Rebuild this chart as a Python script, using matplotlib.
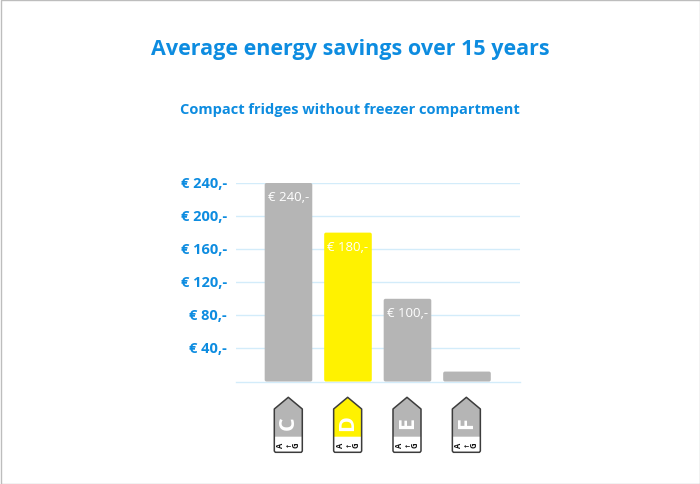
import matplotlib
matplotlib.use("Agg")
import matplotlib.pyplot as plt
from matplotlib.patches import FancyBboxPatch, Polygon, Rectangle
from matplotlib.transforms import ScaledTranslation

plt.rcParams['font.family'] = ['Open Sans', 'DejaVu Sans']

# 数据
classes = ["C", "D", "E", "F"]
savings = [240, 180, 100, 12]
bar_labels = ["€ 240,-", "€ 180,-", "€ 100,-", ""]
bar_colors = ["#b5b5b5", "#fff200", "#b5b5b5", "#b5b5b5"]
ticks = [40, 80, 120, 160, 200, 240]
tick_labels = ["€ 40,-", "€ 80,-", "€ 120,-", "€ 160,-", "€ 200,-", "€ 240,-"]
blue = "#0d8ce0"

W, H = 700, 485
fig = plt.figure(figsize=(7, 4.85), dpi=100)

# 整张图用像素坐标，画标题和标签
bg = fig.add_axes([0, 0, 1, 1])
bg.set_xlim(0, W)
bg.set_ylim(H, 0)
bg.axis("off")
bg.add_patch(Rectangle((0.5, 0.5), W - 1, H - 1, fc="white", ec="#bdbdbd", lw=1))
bg.text(350, 50, "Average energy savings over 15 years", color=blue, fontsize=15.5,
        fontweight="bold", ha="center", va="center")
bg.text(350, 110, "Compact fridges without freezer compartment", color=blue, fontsize=10.5,
        fontweight="bold", ha="center", va="center")

# 柱状图
ax = fig.add_axes([236 / W, 1 - 382.5 / H, 284 / W, 198.5 / H])
ax.patch.set_alpha(0)
ax.set_xlim(-0.882, 3.891)
ax.set_ylim(0, 240)
ax.set_yticks(ticks)
ax.set_yticklabels(tick_labels, color=blue, fontsize=10.5, fontweight="bold")
ax.set_xticks([])
ax.tick_params(axis="y", length=0, pad=6.7)
# 刻度文字往上挪一点
shift = ScaledTranslation(0, 1.5 / 100, fig.dpi_scale_trans)
for lab in ax.get_yticklabels():
    lab.set_transform(lab.get_transform() + shift)
ax.grid(axis="y", color="#d3ecfa", lw=1)
ax.set_axisbelow(True)
for s in ["top", "left", "right"]:
    ax.spines[s].set_visible(False)
ax.spines["bottom"].set_color("#d3ecfa")
ax.spines["bottom"].set_linewidth(1)

# 圆角柱子
bar_w = 0.8
for i, v in enumerate(savings):
    ax.add_patch(FancyBboxPatch((i - bar_w / 2, 0), bar_w, v, boxstyle="round,pad=0,rounding_size=0.03",
                                mutation_aspect=72, fc=bar_colors[i], ec="none", zorder=3))
    if bar_labels[i]:
        ax.annotate(bar_labels[i], (i, v), xytext=(0, -14), textcoords="offset pixels",
                    color="white", fontsize=9.5, ha="center", va="center", zorder=4)

# 能效标签
for i, c in enumerate(classes):
    cx = 288.3 + i * 59.35
    col = bar_colors[i]
    outline = [(cx - 14, 410), (cx, 398.3), (cx + 14, 410), (cx + 14, 452), (cx + 13, 453.3),
               (cx - 13, 453.3), (cx - 14, 452)]
    bg.add_patch(Polygon(outline, closed=True, fc="white", ec="none", zorder=2))
    top = [(cx - 14, 410), (cx, 398.3), (cx + 14, 410), (cx + 14, 437.7), (cx - 14, 437.7)]
    bg.add_patch(Polygon(top, closed=True, fc=col, ec="none", zorder=3))
    bg.add_patch(Polygon(outline, closed=True, fc="none", ec="#3c3c3c", lw=1.1, zorder=4, joinstyle="round"))
    bg.text(cx + 0.3, 423, c, color="white", fontsize=15.5, fontweight="bold", rotation=90,
            ha="center", va="center", zorder=5)
    bg.text(cx - 7.5, 445.5, "A", color="#111111", fontsize=5.5, fontweight="bold", rotation=90,
            ha="center", va="center", zorder=5)
    bg.text(cx + 0.3, 445.5, "←", color="#111111", fontsize=4.5, fontweight="bold",
            ha="center", va="center", zorder=5)
    bg.text(cx + 8, 445.5, "G", color="#111111", fontsize=5.5, fontweight="bold", rotation=90,
            ha="center", va="center", zorder=5)

fig.savefig("out.png", dpi=100)
